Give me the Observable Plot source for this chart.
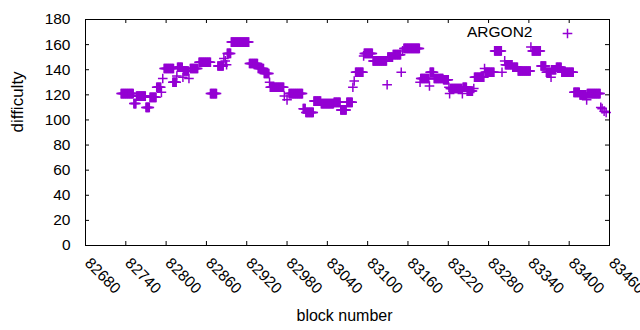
<!DOCTYPE html>
<html><head><meta charset="utf-8">
<script src="https://cdn.jsdelivr.net/npm/d3@7"></script>
<script src="https://cdn.jsdelivr.net/npm/@observablehq/plot@0.6"></script>
<style>body{margin:0;background:#fff}</style>
</head><body><div id="chart"></div>
<script>
const seriesName = "ARGON2";
const xLabel = "block number";
const yLabel = "difficulty";
// runs of consecutive blocks sharing one difficulty value (start block, end block, value)
const runStart = [82733,82752,82756,82770,82776,82786,82793,82795,82797,82810,82816,82817,82825,82826,82834,82836,82849,82866,82877,82886,82888,82890,82891,82897,82924,82937,82946,82954,82955,82976,82980,82983,83004,83008,83020,83031,83050,83060,83069,83078,83080,83082,83094,83095,83108,83129,83130,83138,83150,83152,83154,83178,83179,83192,83193,83199,83213,83221,83222,83223,83241,83242,83248,83258,83259,83274,83275,83289,83300,83304,83305,83316,83324,83343,83345,83358,83366,83373,83374,83381,83389,83407,83416,83426,83427,83447,83449,83452,83455];
const runEnd   = [82751,82755,82769,82775,82785,82792,82793,82795,82811,82815,82816,82824,82825,82833,82834,82847,82866,82875,82885,82886,82888,82890,82896,82923,82936,82945,82953,82954,82975,82976,82980,83003,83007,83019,83030,83049,83059,83068,83077,83078,83080,83093,83094,83107,83128,83129,83137,83149,83150,83152,83177,83178,83191,83192,83198,83212,83220,83221,83222,83240,83241,83247,83256,83258,83273,83274,83288,83299,83300,83304,83315,83323,83342,83343,83357,83365,83372,83373,83380,83388,83406,83415,83425,83426,83446,83447,83449,83452,83455];
const runValue = [121,113,119,110,118,126,122,133,141,130,135,142,134,139,133,141,146,121,143,149,147,144,153,162,145,141,137,130,126,119,116,121,109,106,115,113,114,108,114,126,131,138,151,153,147,128,150,152,138,155,157,130,133,127,138,133,132,126,121,125,121,126,123,125,134,141,138,155,138,147,144,142,139,158,155,143,138,134,140,142,138,122,120,116,121,110,109,107,106];
const xTicks = [82680,82740,82800,82860,82920,82980,83040,83100,83160,83220,83280,83340,83400,83460];
const yTicks = [0,20,40,60,80,100,120,140,160,180];

const points = [];
runStart.forEach((s, i) => {
  for (let b = s; b <= runEnd[i]; b++) points.push({block: b, difficulty: runValue[i]});
});

const color = "#9400d3";
const chart = Plot.plot({
  width: 640, height: 330,
  marginLeft: 85, marginRight: 31, marginTop: 19, marginBottom: 85,
  style: {fontFamily: "'Liberation Sans', Arial, sans-serif", fontSize: "15px", background: "white", color: "black"},
  x: {domain: [82680, 83460], axis: null},
  y: {domain: [0, 180], axis: null},
  marks: [
    Plot.dot(points, {x: "block", y: "difficulty", symbol: "plus", r: 3.2, stroke: color, strokeWidth: 1.5}),
    Plot.tickX(xTicks, {x: d => d, insetTop: 222, stroke: "black"}),
    Plot.tickX(xTicks, {x: d => d, insetBottom: 222, stroke: "black"}),
    Plot.tickY(yTicks, {y: d => d, insetRight: 520, stroke: "black"}),
    Plot.tickY(yTicks, {y: d => d, insetLeft: 520, stroke: "black"}),
    Plot.frame({stroke: "black"}),
    Plot.text(yTicks, {y: d => d, frameAnchor: "left", text: d => String(d), textAnchor: "end", dx: -15, fontSize: 15.5, lineAnchor: "middle"}),
    Plot.text(xTicks, {x: d => d, frameAnchor: "bottom", text: d => String(d), rotate: 45, textAnchor: "start", lineAnchor: "middle", dx: 2, dy: 15, fontSize: 15.5}),
    Plot.text([xLabel], {frameAnchor: "bottom", text: d => d, dy: 70, dx: -3, fontSize: 16, lineAnchor: "middle"}),
    Plot.text([yLabel], {frameAnchor: "left", text: d => d, dx: -68, rotate: -90, fontSize: 17, lineAnchor: "middle"}),
    Plot.text([seriesName], {frameAnchor: "top-right", text: d => d, textAnchor: "end", lineAnchor: "middle", dx: -77, dy: 13, fontSize: 15.5}),
    Plot.dot([seriesName], {frameAnchor: "top-right", dx: -42, dy: 14, symbol: "plus", r: 3.2, stroke: color, strokeWidth: 1.5})
  ]
});
document.getElementById("chart").appendChild(chart);
</script>
</body></html>
